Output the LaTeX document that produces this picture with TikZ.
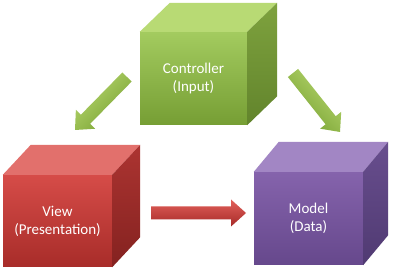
\documentclass[tikz,border=0pt]{standalone}
\usepackage{fontspec}
\setmainfont{Carlito}
\usetikzlibrary{calc}
\definecolor{gFront1}{RGB}{163,203,95}
\definecolor{gFront2}{RGB}{118,158,52}
\definecolor{gTop}{RGB}{184,218,116}
\definecolor{gSide1}{RGB}{126,162,62}
\definecolor{gSide2}{RGB}{98,132,44}
\definecolor{rFront1}{RGB}{214,76,72}
\definecolor{rFront2}{RGB}{168,44,41}
\definecolor{rTop}{RGB}{226,112,108}
\definecolor{rSide1}{RGB}{172,52,49}
\definecolor{rSide2}{RGB}{132,34,32}
\definecolor{pFront1}{RGB}{133,99,172}
\definecolor{pFront2}{RGB}{102,72,140}
\definecolor{pTop}{RGB}{162,134,196}
\definecolor{pSide1}{RGB}{104,78,142}
\definecolor{pSide2}{RGB}{80,58,114}
\definecolor{gArr1}{RGB}{184,216,112}
\definecolor{gArr2}{RGB}{118,160,48}
\definecolor{rArr1}{RGB}{226,96,90}
\definecolor{rArr2}{RGB}{166,42,40}
\tikzset{
  front/.style={rectangle, inner sep=0pt, align=center, text=white,
    font=\fontsize{15}{18}\selectfont},
}
% block arrow from #1 to #2 with style #3
\newcommand\mvcarrow[3]{%
  \coordinate (#2h) at ($(#2)!15pt!(#1)$);
  \path[#3] ($(#1)!6.5pt!90:(#2)$) -- ($(#2h)!6.5pt!90:(#2)$) -- ($(#2h)!13.5pt!90:(#2)$)
    -- (#2) -- ($(#2h)!13.5pt!-90:(#2)$) -- ($(#2h)!6.5pt!-90:(#2)$)
    -- ($(#1)!6.5pt!-90:(#2)$) -- cycle;
}
\begin{document}
\begin{tikzpicture}[x=1pt,y=-1pt]
\useasboundingbox (0,0) rectangle (396,272);
\fill[white] (0,0) rectangle (396,272);

% Controller cube
\node[front, minimum width=107pt, minimum height=93pt, top color=gFront1, bottom color=gFront2] (ctrl) at (193.5,78.5) {Controller\\(Input)};
\fill[gTop] (ctrl.north west) -- (ctrl.north east) -- ++(30,-29) -- ($(ctrl.north west)+(30,-29)$) -- cycle;
\shade[top color=gSide1, bottom color=gSide2] (ctrl.north east) -- ++(30,-29) -- ($(ctrl.south east)+(30,-29)$) -- (ctrl.south east) -- cycle;

% View cube
\node[front, minimum width=109pt, minimum height=92pt, top color=rFront1, bottom color=rFront2] (view) at (57.5,221) {View\\(Presentation)};
\fill[rTop] (view.north west) -- (view.north east) -- ++(28,-30) -- ($(view.north west)+(28,-30)$) -- cycle;
\shade[top color=rSide1, bottom color=rSide2] (view.north east) -- ++(28,-30) -- ($(view.south east)+(28,-30)$) -- (view.south east) -- cycle;

% Model cube
\node[front, minimum width=109pt, minimum height=93pt, top color=pFront1, bottom color=pFront2] (model) at (308.5,218.5) {Model\\(Data)};
\fill[pTop] (model.north west) -- (model.north east) -- ++(25,-30) -- ($(model.north west)+(25,-30)$) -- cycle;
\shade[top color=pSide1, bottom color=pSide2] (model.north east) -- ++(25,-30) -- ($(model.south east)+(25,-30)$) -- (model.south east) -- cycle;

% arrows
\coordinate (a1s) at (127,77); \coordinate (a1e) at (75,130);
\coordinate (a2s) at (293,73); \coordinate (a2e) at (340,132);
\coordinate (a3s) at (151,213); \coordinate (a3e) at (246,213);
\mvcarrow{a1s}{a1e}{top color=gArr1, bottom color=gArr2, shading angle=45}
\mvcarrow{a2s}{a2e}{top color=gArr1, bottom color=gArr2, shading angle=-45}
\mvcarrow{a3s}{a3e}{top color=rArr1, bottom color=rArr2}
\end{tikzpicture}
\end{document}
